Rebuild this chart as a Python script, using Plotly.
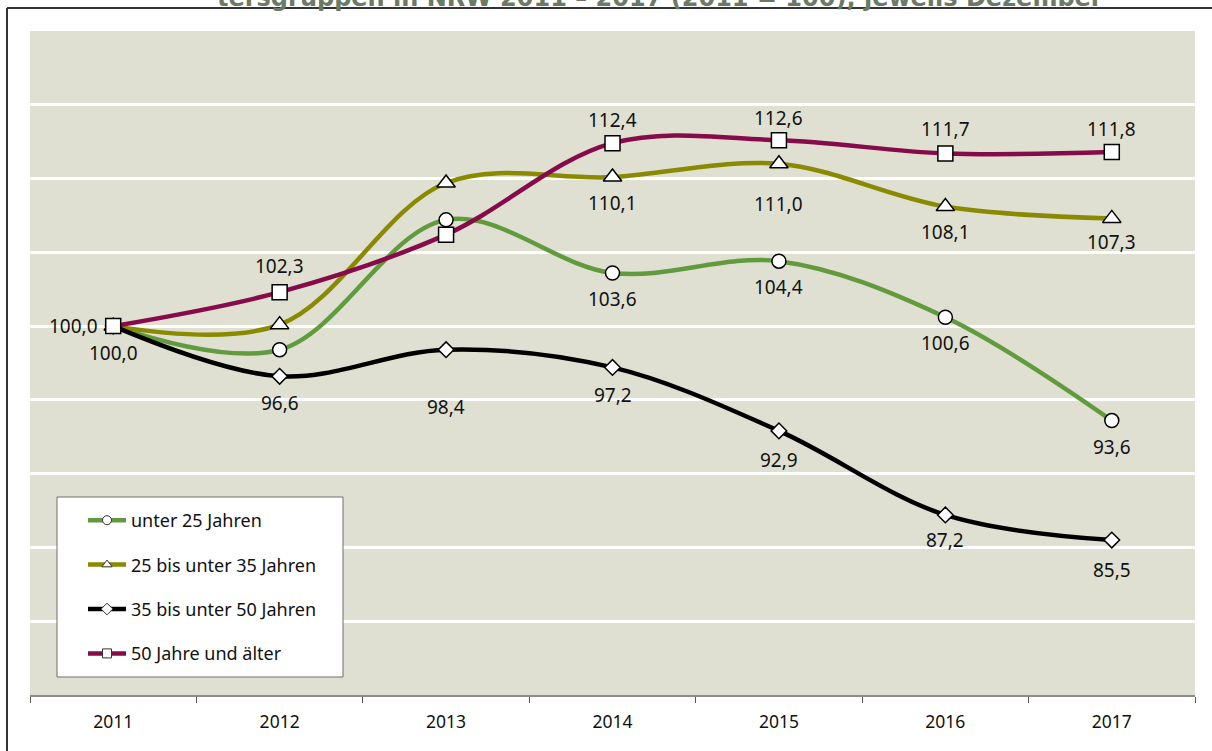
import plotly.graph_objects as go

years = ["2011", "2012", "2013", "2014", "2015", "2016", "2017"]

u25 = [100.0, 98.4, 107.2, 103.6, 104.4, 100.6, 93.6]
a25_35 = [100.0, 100.1, 109.7, 110.1, 111.0, 108.1, 107.3]
a35_50 = [100.0, 96.6, 98.4, 97.2, 92.9, 87.2, 85.5]
a50 = [100.0, 102.3, 106.2, 112.4, 112.6, 111.7, 111.8]

names = ["unter 25 Jahren", "25 bis unter 35 Jahren", "35 bis unter 50 Jahren", "50 Jahre und älter"]

# which points carry a data label
show_u25 = [0, 0, 0, 1, 1, 1, 1]
show_25_35 = [0, 0, 0, 1, 1, 1, 1]
show_35_50 = [1, 1, 1, 1, 1, 1, 1]
show_50 = [1, 1, 0, 1, 1, 1, 1]

# label offsets from the point, in pixels (dx, dy; +dy = up)
off_u25 = [(0, -26)] * 7
off_25_35 = [(0, -26), (0, -26), (0, -26), (0, -26), (0, -40), (0, -25), (0, -24)]
off_35_50 = [(0, -27), (0, -27), (0, -57), (0, -28), (0, -29), (0, -25), (0, -30)]
off_50 = [(-40, 0), (0, 26), (0, 24), (0, 23), (0, 22), (0, 24), (0, 23)]

colors = ["#629a3e", "#8a8a00", "#000000", "#870a4a"]
symbols = ["circle", "triangle-up", "diamond", "square"]
msizes = [14, 16, 12, 15]

FONT = "Noto Sans"


def fmt(v):
    return f"{v:.1f}".replace(".", ",")


series = [
    (u25, show_u25, off_u25),
    (a25_35, show_25_35, off_25_35),
    (a35_50, show_35_50, off_35_50),
    (a50, show_50, off_50),
]

fig = go.Figure()
annotations = []
for i, (vals, show, offs) in enumerate(series):
    fig.add_trace(go.Scatter(
        x=years, y=vals, mode="lines+markers",
        line=dict(color=colors[i], width=4.5, shape="spline", smoothing=1.0),
        marker=dict(symbol=symbols[i], size=msizes[i], color="white",
                    line=dict(color="black", width=1.5)),
        showlegend=False, hoverinfo="skip", cliponaxis=False,
    ))
    for j, (v, s, (dx, dy)) in enumerate(zip(vals, show, offs)):
        if s:
            annotations.append(dict(
                x=j, y=v, xref="x", yref="y", text=fmt(v), showarrow=False,
                xshift=dx, yshift=dy, xanchor="center", yanchor="middle",
                font=dict(family=FONT, size=19, color="#111111"),
            ))

# legend entries with small markers
for i in range(4):
    fig.add_trace(go.Scatter(
        x=[None], y=[None], mode="lines+markers", name=names[i],
        line=dict(color=colors[i], width=4.5),
        marker=dict(symbol=symbols[i], size=9, color="white",
                    line=dict(color="#333333", width=1)),
        legendgroup=f"g{i}", showlegend=True,
    ))

# plot-area geometry in pixels -> paper helpers
L, R, T, B = 30, 1195, 31, 695
W, H = 1212, 751


def px(x):
    return (x - L) / (R - L)


def py(y):
    return (B - y) / (B - T)


annotations.append(dict(
    text="tersgruppen in NRW 2011 – 2017 (2011 = 100), jeweils Dezember",
    xref="paper", yref="paper", x=px(660), y=py(14.5),
    xanchor="center", yanchor="bottom", showarrow=False,
    font=dict(family="DejaVu Sans", size=24, color="#6b7a64", weight="bold"),
))

fig.update_layout(
    width=W, height=H,
    margin=dict(l=L, r=W - R, t=T, b=H - B, pad=0),
    paper_bgcolor="white", plot_bgcolor="#dfe0d2",
    font=dict(family=FONT, size=18, color="#111111"),
    showlegend=True,
    legend=dict(
        x=px(83), y=py(502), xanchor="left", yanchor="top",
        bgcolor="rgba(0,0,0,0)", borderwidth=0,
        font=dict(family=FONT, size=18, color="#111111"),
        tracegroupgap=18, traceorder="grouped", itemwidth=38,
    ),
    xaxis=dict(
        type="category", range=[-0.5, 6.5],
        showgrid=False, showline=True, linecolor="#8c8c8c", linewidth=2,
        ticks="outside", tickson="boundaries", ticklen=6, tickcolor="#555555",
        tickfont=dict(family=FONT, size=17.5, color="#111111"),
        ticklabelstandoff=10,
        fixedrange=True,
    ),
    yaxis=dict(
        range=[75, 120], dtick=5, tick0=75,
        showgrid=True, gridcolor="white", gridwidth=3,
        showticklabels=False, zeroline=False, showline=False,
        fixedrange=True,
    ),
    shapes=[
        dict(type="rect", xref="paper", yref="paper",
             x0=px(57), x1=px(343), y0=py(677), y1=py(497),
             fillcolor="white", line=dict(color="#6e6e6e", width=1), layer="above"),
        dict(type="line", xref="paper", yref="paper",
             x0=px(7), x1=px(1212), y0=py(8), y1=py(8),
             line=dict(color="#333333", width=2)),
        dict(type="line", xref="paper", yref="paper",
             x0=px(7), x1=px(7), y0=py(8), y1=py(751),
             line=dict(color="#333333", width=2)),
    ],
    annotations=annotations,
)

fig.write_html("out.html", config={"displayModeBar": False},
               post_script="document.body.style.margin='0px';")
